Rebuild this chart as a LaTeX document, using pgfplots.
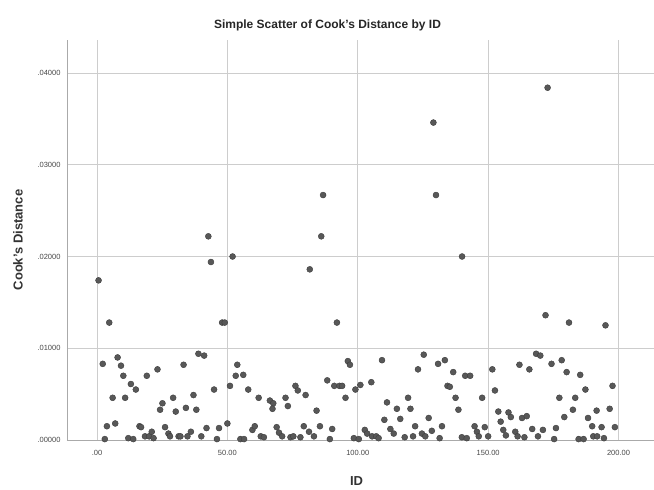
\documentclass[border=0pt]{standalone}
\usepackage{pgfplots}
\pgfplotsset{compat=1.18}
\usepackage{fontspec}
\setmainfont{Liberation Sans}
\definecolor{gridc}{RGB}{205,205,205}
\definecolor{axc}{RGB}{170,170,170}
\definecolor{ptfill}{RGB}{88,88,88}
\definecolor{ptdraw}{RGB}{60,60,60}
\definecolor{tickc}{RGB}{70,70,70}
\begin{document}
\begin{tikzpicture}
\useasboundingbox (-67pt,-50pt) rectangle (587pt,440pt);
\begin{axis}[
  at={(0,0)}, anchor=south west,
  scale only axis, width=587pt, height=400pt,
  xmin=-11.5, xmax=213.6, ymin=0, ymax=0.0436,
  axis x line=bottom, axis y line=left,
  axis line style={axc, -},
  xtick={0,50,100,150,200},
  xticklabels={.00,50.00,100.00,150.00,200.00},
  ytick={0,0.01,0.02,0.03,0.04},
  yticklabels={.00000,.01000,.02000,.03000,.04000},
  scaled y ticks=false, scaled x ticks=false,
  major tick length=0pt,
  grid=major, grid style={gridc, line width=0.7pt},
  /pgf/number format/assume math mode=true,
  tick label style={font=\fontsize{7.5}{8}\selectfont, text=tickc},
  xticklabel style={yshift=-7pt},
  yticklabel style={xshift=-3pt},
  title={Simple Scatter of Cook's Distance by ID},
  title style={at={(axis description cs:0.5,1)}, anchor=center, yshift=9pt, xshift=-33pt, font=\fontsize{12}{13}\selectfont\bfseries, text=black!85},
  xlabel={ID},
  xlabel style={at={(axis description cs:0.5,0)}, anchor=center, yshift=-41pt, xshift=-4pt, font=\fontsize{13}{14}\selectfont\bfseries, text=black!80},
  ylabel={Cook's Distance},
  ylabel style={at={(axis description cs:0,0.5)}, anchor=center, yshift=49pt, font=\fontsize{13}{14}\selectfont\bfseries, text=black!80},
  clip=false,
]
\addplot[only marks, mark=*, mark size=3pt, mark options={fill=ptfill, draw=ptdraw, line width=0.4pt}] table[x=id, y=cd] {
id cd
0.6 0.0174
4.7 0.0128
42.7 0.0222
43.7 0.0194
48 0.0128
49 0.0128
52 0.0200
81.6 0.0186
86 0.0222
86.7 0.0267
92 0.0128
129 0.0346
130 0.0267
140 0.0200
172.8 0.0384
172 0.0136
181 0.0128
195 0.0125
2.2 0.0083
7.9 0.0090
9.2 0.0081
10.1 0.0070
13 0.0061
14.9 0.0055
6 0.0046
10.8 0.0046
19.1 0.0070
23.2 0.0077
33.2 0.0082
38.9 0.0094
41.1 0.0092
44.9 0.0055
51 0.0059
53.8 0.0082
53.2 0.0070
56.1 0.0071
58 0.0055
62 0.0046
25.1 0.0040
24.2 0.0033
29.2 0.0046
30.2 0.0031
34.1 0.0035
37 0.0049
38.1 0.0033
3.8 0.0015
7 0.0018
3 0.0001
12 0.0002
13.9 0.0001
16.3 0.0015
16.9 0.0014
18.4 0.0004
20 0.0004
21 0.0009
21.7 0.0002
26.1 0.0014
27.4 0.0007
28 0.0004
31.3 0.0004
32 0.0004
34.7 0.0004
36 0.0009
40 0.0004
42 0.0013
46 0.0001
46.8 0.0013
50 0.0018
55 0.0001
56.4 0.0001
59.6 0.0011
60.5 0.0015
62.8 0.0004
64 0.0003
66.3 0.0043
67.6 0.0040
67.3 0.0034
72.3 0.0046
73.2 0.0037
76.1 0.0059
77 0.0054
80 0.0049
84.2 0.0032
88.3 0.0065
91 0.0059
93 0.0059
94 0.0059
95.3 0.0046
96.2 0.0086
97 0.0082
99.1 0.0055
101 0.0060
105.2 0.0063
109.3 0.0087
111.2 0.0041
115 0.0034
119.3 0.0046
120.2 0.0034
110.2 0.0022
116.3 0.0023
123.1 0.0077
125.3 0.0093
127.2 0.0024
122 0.0015
124.6 0.0007
128.4 0.0010
112.5 0.0012
113.8 0.0007
68.9 0.0014
69.8 0.0008
71 0.0004
74.2 0.0003
75.3 0.0004
78 0.0003
79.3 0.0015
81.3 0.0009
83.2 0.0004
85.5 0.0015
89.3 0.0001
90.2 0.0012
98.5 0.0002
100.4 0.0001
102.7 0.0011
103.6 0.0007
105.5 0.0004
107.1 0.0004
108 0.0002
118 0.0003
121.2 0.0004
125.9 0.0004
130.8 0.0083
133.4 0.0087
136.6 0.0074
141.2 0.0070
143.1 0.0070
134.4 0.0059
135.3 0.0058
137.5 0.0046
138.6 0.0033
151.6 0.0077
152.6 0.0054
147.7 0.0046
162 0.0082
165.8 0.0077
168.4 0.0094
170 0.0092
174.3 0.0083
178.2 0.0087
180.1 0.0074
185.3 0.0071
187.3 0.0055
197.7 0.0059
177.3 0.0046
183.4 0.0046
182.5 0.0033
191.6 0.0032
196.6 0.0034
153.9 0.0031
157.8 0.0030
158.7 0.0025
163 0.0024
164.8 0.0026
179.2 0.0025
188.3 0.0024
189.9 0.0015
132.3 0.0015
144.8 0.0015
145.7 0.0009
146.4 0.0004
148.7 0.0014
150 0.0004
154.8 0.0020
155.8 0.0011
156.8 0.0005
160.4 0.0009
161.3 0.0004
163.9 0.0003
166.9 0.0012
169.1 0.0004
171 0.0011
176 0.0013
175.3 0.0001
184.7 0.0001
186.6 0.0001
190.3 0.0004
191.8 0.0004
194.4 0.0002
193.5 0.0014
198.6 0.0014
131.4 0.0002
139.9 0.0003
141.8 0.0002
};
\end{axis}
\end{tikzpicture}
\end{document}
